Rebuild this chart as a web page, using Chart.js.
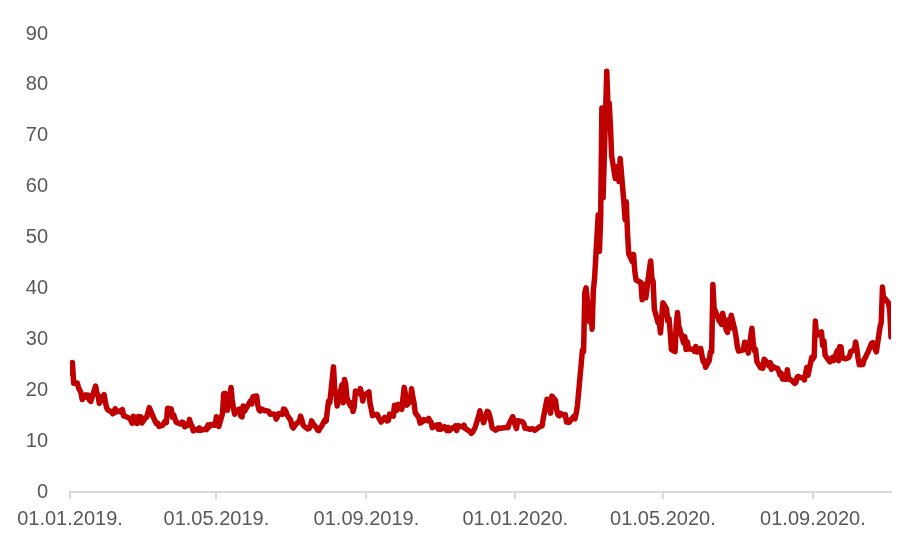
<!DOCTYPE html>
<html>
<head>
<meta charset="utf-8">
<script src="https://cdn.jsdelivr.net/npm/chart.js@4.4.0/dist/chart.umd.min.js"></script>
<style>
  html, body { margin: 0; padding: 0; background: #fff; }
  #wrap { width: 912px; height: 560px; }
</style>
</head>
<body>
<div id="wrap"><canvas id="chart"></canvas></div>
<script>
// Daily closing values, one array per month (trading days in order)
const jan19 = [23.22, 25.45, 21.38, 21.40, 20.47, 19.98, 19.50, 18.19, 19.07, 18.60, 19.04, 18.06, 17.80, 20.80, 19.52, 18.89, 17.42, 18.87, 19.13, 17.66, 16.57];
const feb19 = [16.14, 15.73, 15.38, 15.57, 16.37, 15.72, 15.97, 15.65, 16.22, 14.91, 14.91, 14.46, 14.02, 13.51, 14.88, 13.46, 14.85, 14.70, 14.78];
const mar19 = [13.57, 14.63, 14.74, 15.74, 16.59, 16.05, 14.33, 13.77, 13.41, 13.50, 12.88, 13.10, 13.56, 13.91, 13.63, 16.48, 16.33, 14.68, 15.15, 14.43, 13.71];
const apr19 = [13.40, 13.36, 13.74, 13.58, 12.82, 13.18, 14.28, 13.30, 13.02, 12.01, 12.32, 12.18, 12.60, 12.09, 12.42, 12.28, 13.14, 12.73, 13.25, 13.11, 13.12];
const may19 = [14.80, 14.42, 12.87, 15.44, 19.32, 19.40, 19.10, 16.04, 20.55, 18.06, 16.44, 15.29, 15.96, 16.31, 14.95, 14.75, 16.92, 15.85, 17.50, 17.90, 17.30, 18.71];
const jun19 = [18.86, 16.97, 16.09, 15.93, 16.30, 15.94, 15.99, 15.91, 15.82, 15.28, 15.35, 15.15, 14.33, 14.75, 15.40, 15.26, 16.28, 16.21, 15.82, 15.08];
const jul19 = [14.06, 12.93, 12.57, 13.28, 13.96, 14.91, 14.20, 13.19, 12.93, 12.39, 12.48, 12.86, 13.97, 13.53, 12.61, 12.16, 12.07, 12.59, 12.83, 14.19, 13.94, 16.12];
const aug19 = [17.87, 17.61, 24.59, 20.17, 19.49, 16.91, 17.97, 21.09, 17.52, 22.10, 21.18, 18.47, 16.88, 17.50, 15.80, 16.68, 19.87, 19.32, 20.31, 19.35, 17.88, 18.98];
const sep19 = [19.66, 17.33, 16.27, 15.00, 15.27, 15.20, 14.61, 14.22, 13.74, 14.67, 14.44, 13.95, 14.05, 15.32, 14.91, 17.05, 15.96, 16.07, 17.22, 16.24];
const oct19 = [18.56, 20.56, 19.12, 17.04, 17.86, 20.28, 18.64, 17.57, 15.58, 14.57, 13.54, 13.68, 13.79, 14.25, 14.00, 14.46, 14.01, 13.71, 12.65, 13.11, 13.20, 12.33, 13.22];
const nov19 = [12.30, 12.83, 12.62, 12.07, 12.73, 12.07, 12.69, 12.68, 13.00, 12.05, 13.05, 12.86, 12.78, 13.13, 12.46, 12.34, 11.87, 11.54, 11.75, 12.62];
const dec19 = [14.91, 15.96, 14.80, 14.52, 13.62, 15.86, 15.68, 14.99, 13.94, 12.63, 12.14, 12.29, 12.58, 12.50, 12.51, 12.61, 12.67, 12.65, 13.43, 14.82, 13.78];
const jan20 = [12.47, 14.02, 13.85, 13.79, 13.45, 12.54, 12.56, 12.32, 12.39, 12.42, 12.32, 12.10, 12.85, 12.91, 12.98, 14.56, 18.23, 16.28, 16.39, 15.49, 18.84];
const feb20 = [17.97, 16.05, 15.15, 14.96, 15.47, 15.04, 15.18, 13.74, 14.15, 13.68, 14.83, 14.38, 15.56, 17.08, 25.03, 27.85, 27.56, 39.16, 40.11];
const mar20 = [33.42, 36.82, 31.99, 39.62, 41.94, 54.46, 47.30, 53.90, 75.47, 57.83, 82.69, 75.91, 76.45, 72.00, 66.04, 61.59, 61.67, 63.95, 61.00, 65.54, 57.08, 53.54];
const apr20 = [57.06, 50.91, 46.80, 45.24, 46.70, 43.35, 41.67, 41.17, 37.76, 40.84, 40.11, 38.15, 43.83, 45.41, 41.98, 41.38, 35.93, 33.29, 33.57, 31.23, 34.15];
const may20 = [37.19, 35.97, 33.61, 34.12, 31.44, 27.98, 27.57, 33.04, 35.28, 32.61, 31.89, 29.30, 30.53, 27.99, 29.53, 28.16, 28.01, 27.62, 28.59, 27.51];
const jun20 = [28.23, 26.84, 25.66, 25.81, 24.52, 25.81, 27.57, 27.57, 40.79, 36.09, 34.40, 33.67, 33.47, 32.94, 35.12, 31.77, 31.37, 33.84, 32.22, 34.73, 31.78, 30.43];
const jul20 = [28.62, 27.68, 27.94, 29.43, 28.08, 29.26, 27.29, 32.19, 29.52, 27.76, 28.00, 25.68, 24.46, 24.84, 24.32, 26.08, 25.84, 24.74, 25.44, 24.10, 24.76, 24.46];
const aug20 = [24.28, 23.76, 22.99, 23.35, 22.21, 22.13, 24.03, 22.28, 22.13, 22.05, 21.35, 21.51, 22.54, 22.72, 22.54, 22.37, 22.03, 23.27, 24.47, 22.96, 26.41];
const sep20 = [26.12, 26.57, 33.60, 30.75, 31.46, 28.81, 29.71, 26.87, 25.85, 25.59, 26.04, 26.46, 25.83, 27.78, 25.79, 28.58, 28.51, 26.38, 26.19, 26.27, 26.37];
const oct20 = [26.70, 27.63, 27.96, 29.48, 28.06, 26.36, 25.00, 25.07, 26.07, 26.40, 26.97, 27.41, 29.18, 29.35, 28.65, 28.11, 27.55, 32.46, 33.35, 40.28, 37.59, 38.02];
const nov20 = [37.13, 35.55, 30.50];

const months = ['2019-01', '2019-02', '2019-03', '2019-04', '2019-05', '2019-06', '2019-07', '2019-08', '2019-09', '2019-10', '2019-11', '2019-12',
                '2020-01', '2020-02', '2020-03', '2020-04', '2020-05', '2020-06', '2020-07', '2020-08', '2020-09', '2020-10', '2020-11'];
const monthValues = [jan19, feb19, mar19, apr19, may19, jun19, jul19, aug19, sep19, oct19, nov19, dec19,
                     jan20, feb20, mar20, apr20, may20, jun20, jul20, aug20, sep20, oct20, nov20];

// Exchange holidays (no trading)
const holidays = ['2019-01-01', '2019-01-21', '2019-02-18', '2019-04-19', '2019-05-27', '2019-07-04', '2019-09-02', '2019-11-28', '2019-12-25',
                  '2020-01-01', '2020-01-20', '2020-02-17', '2020-04-10', '2020-05-25', '2020-07-03', '2020-09-07'];

// Axis tick labels (dd.mm.yyyy.)
const tickLabels = ['01.01.2019.', '01.05.2019.', '01.09.2019.', '01.01.2020.', '01.05.2020.', '01.09.2020.'];
const axisEnd = '2020-11-04';

const DAY = 86400000;
const origin = Date.UTC(2019, 0, 1);

function dayOffset(y, m, d) {
  return (Date.UTC(y, m - 1, d) - origin) / DAY;
}

// Put each month's values on its trading days
function buildPoints() {
  const points = [];
  months.forEach((key, i) => {
    const [y, m] = key.split('-').map(Number);
    const vals = monthValues[i];
    let k = 0;
    for (let d = 1; d <= 31 && k < vals.length; d++) {
      const dt = new Date(Date.UTC(y, m - 1, d));
      if (dt.getUTCMonth() !== m - 1) break;
      const wd = dt.getUTCDay();
      const iso = dt.toISOString().slice(0, 10);
      if (wd === 0 || wd === 6 || holidays.includes(iso)) continue;
      points.push({ x: dayOffset(y, m, d), y: vals[k] });
      k++;
    }
  });
  return points;
}

const tickDays = tickLabels.map(s => {
  const [d, m, y] = s.split('.').map(Number);
  return dayOffset(y, m, d);
});
const [ey, em, ed] = axisEnd.split('-').map(Number);

const font = { family: '"Liberation Sans", Arial, sans-serif', size: 20 };

new Chart(document.getElementById('chart'), {
  type: 'line',
  data: {
    datasets: [{
      data: buildPoints(),
      borderColor: '#C00000',
      borderWidth: 5.5,
      borderJoinStyle: 'round',
      borderCapStyle: 'round',
      pointRadius: 0,
      tension: 0,
      fill: false
    }]
  },
  options: {
    responsive: true,
    maintainAspectRatio: false,
    animation: false,
    layout: { padding: { top: 32, right: 21, bottom: 0, left: 0 } },
    plugins: { legend: { display: false }, tooltip: { enabled: false } },
    scales: {
      x: {
        type: 'linear',
        min: 0,
        max: dayOffset(ey, em, ed),
        afterBuildTicks: axis => { axis.ticks = tickDays.map(v => ({ value: v })); },
        afterFit: axis => { axis.height = 560 - 492; },
        ticks: {
          autoSkip: false,
          maxRotation: 0,
          padding: 8,
          color: '#595959',
          font: font,
          callback: (value, index) => tickLabels[index]
        },
        grid: { display: true, drawOnChartArea: false, drawTicks: true, tickLength: 7, color: '#D9D9D9', lineWidth: 2 },
        border: { display: true, color: '#D9D9D9', width: 2 }
      },
      y: {
        min: 0,
        max: 90,
        afterFit: axis => { axis.width = 70; },
        ticks: { stepSize: 10, padding: 22, color: '#595959', font: font },
        grid: { display: false, drawTicks: false },
        border: { display: false }
      }
    }
  }
});
</script>
</body>
</html>
